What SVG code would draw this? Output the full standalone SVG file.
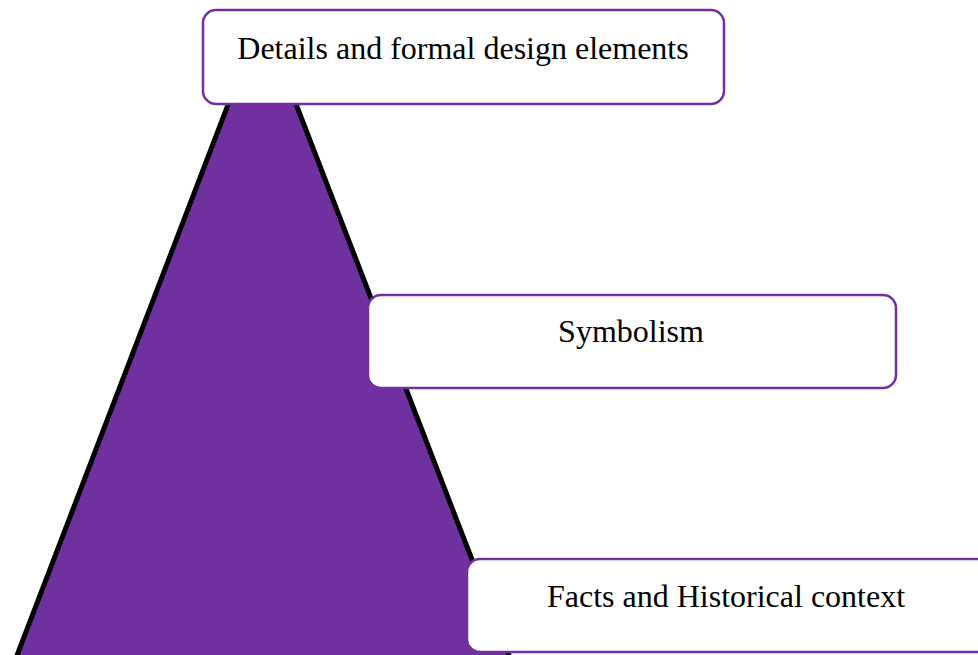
<svg xmlns="http://www.w3.org/2000/svg" width="978" height="655" viewBox="0 0 978 655">
<style>
.box{fill:#fff;stroke:#7030A0;stroke-width:2.5}
.t{font-family:"Liberation Serif","Times New Roman",serif;font-size:32px;fill:#000;text-anchor:middle}
</style>
<rect width="978" height="655" fill="#fff"/>
<g id="pyramid">
<polygon points="262,16 16,658 510,658" fill="#7030A0" stroke="#000" stroke-width="5"/>
</g>
<g id="node-details">
<rect class="box" x="203" y="10" width="521" height="94" rx="13"/>
<text class="t" x="463" y="59">Details and formal design elements</text>
</g>
<g id="node-symbolism">
<rect class="box" x="368" y="295" width="528" height="93" rx="13"/>
<text class="t" x="631" y="342">Symbolism</text>
</g>
<g id="node-facts">
<rect class="box" x="467" y="559" width="530" height="93" rx="13"/>
<text class="t" x="726" y="607">Facts and Historical context</text>
</g>
</svg>
